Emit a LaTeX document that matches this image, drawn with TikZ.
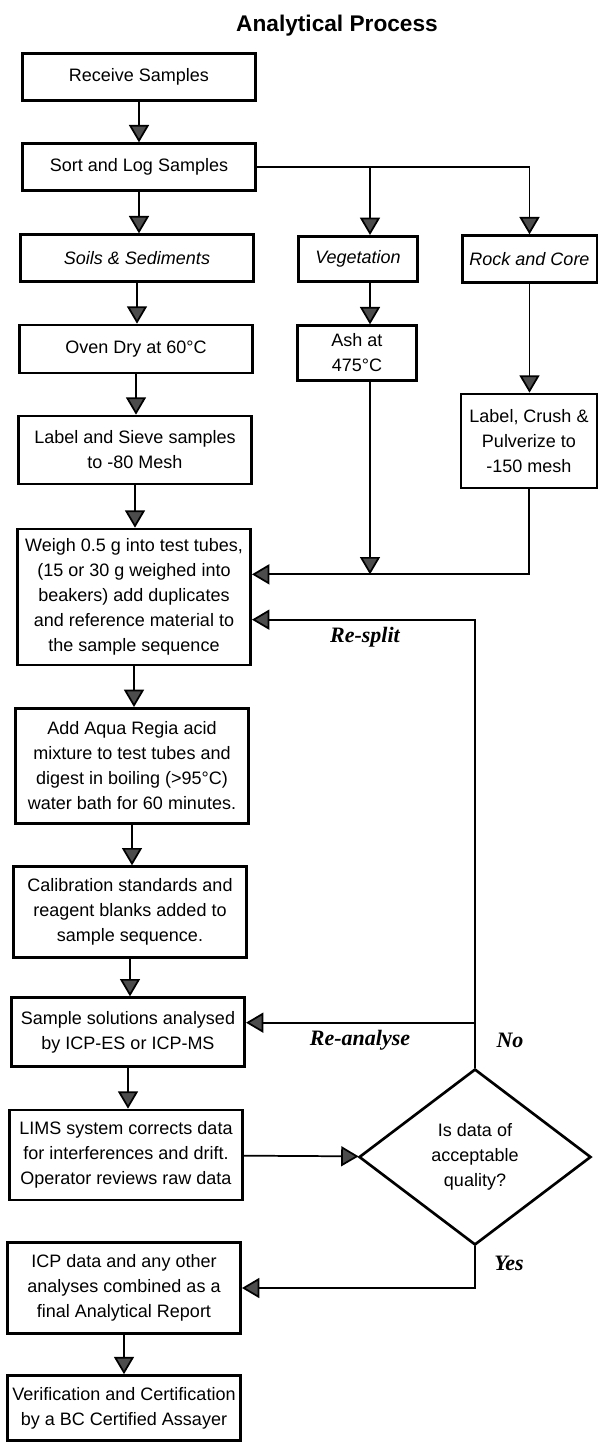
\documentclass[tikz,border=0pt]{standalone}
\usepackage{fontspec}
\setmainfont{Liberation Sans}
\newfontfamily\notefont{Liberation Serif}
\usetikzlibrary{arrows.meta,shapes.geometric}

\tikzset{every picture/.style={line width=0.75pt}}
\tikzset{
  box/.style={draw, line width=2, fill=white, align=center, inner sep=3pt, font=\fontsize{13.5}{18.75}\selectfont},
  wide/.style={box, minimum width=175pt},
  slim/.style={box, minimum width=89pt},
  query/.style={draw, diamond, line width=2, align=center, inner sep=0pt, minimum width=174pt, minimum height=132pt, font=\fontsize{13.5}{18.75}\selectfont},
  link/.style={->, line width=1.3},
  note/.style={font=\notefont\fontsize{16.5}{18}\selectfont\bfseries\itshape},
}

\begin{document}
\begin{tikzpicture}[x=0.75pt,y=0.75pt,yscale=-1,>={Triangle[length=13pt,width=15pt,fill=black!70]}]
\useasboundingbox (0,0) rectangle (598,1444);

% Text Node
\node[font=\fontsize{17}{20}\selectfont\bfseries] (title) at (337,26) {Analytical Process};

%Shape: Rectangle
\node[wide, minimum height=35pt] (receive) at (139,77) {Receive Samples};
\node[wide, minimum height=35pt] (sort) at (139,167) {Sort and Log Samples};
\node[wide, minimum height=35pt] (soils) at (137,258) {\textit{Soils \& Sediments}};
\node[slim, minimum height=34pt] (veg) at (358,259) {\textit{Vegetation}};
\node[box, minimum width=101pt, minimum height=35pt] (rock) at (529.5,259) {\textit{Rock and Core}};
\node[wide, minimum height=36pt] (oven) at (136,349) {Oven Dry at 60°C};
\node[slim, minimum height=41pt] (ash) at (357,353) {Ash at\\475°C};
\node[box, minimum width=102pt, minimum height=70.5pt] (crush) at (529,441) {Label, Crush \&\\Pulverize to\\-150 mesh};
\node[wide, minimum height=51pt] (sieve) at (135,450) {Label and Sieve samples\\to -80 Mesh};
\node[wide, minimum height=102pt] (weigh) at (134,597) {Weigh 0.5 g into test tubes,\\(15 or 30 g weighed into\\beakers) add duplicates\\and reference material to\\the sample sequence};
\node[wide, minimum height=86.5pt] (aqua) at (132,766) {Add Aqua Regia acid\\mixture to test tubes and\\digest in boiling (>95°C)\\water bath for 60 minutes.};
\node[wide, minimum height=68pt] (calib) at (130,912) {Calibration standards and\\reagent blanks added to\\sample sequence.};
\node[wide, minimum height=51.5pt] (sample) at (128,1032) {Sample solutions analysed\\by ICP-ES or ICP-MS};
\node[wide, minimum height=67.5pt] (lims) at (126,1155) {LIMS system corrects data\\for interferences and drift.\\Operator reviews raw data};
\node[wide, minimum height=68.5pt] (icp) at (124,1288) {ICP data and any other\\analyses combined as a\\final Analytical Report};
\node[wide, minimum height=48.75pt] (verify) at (124,1408) {Verification and Certification\\by a BC Certified Assayer};

%Shape: Diamond
\node[query] (check) at (475,1157) {Is data of\\acceptable\\quality?};

% Text Node
\node[note] (resplit) at (365,637) {Re-split};
\node[note] (reanalyse) at (360,1040) {Re-analyse};
\node[note] (no) at (510,1040) {No};
\node[note] (yes) at (509,1263) {Yes};

%Straight Lines
\coordinate (vegline) at (370,167);
\coordinate (joinin) at ([yshift=-17pt]weigh.east);
\coordinate (splitin) at ([yshift=17pt]weigh.east);
\coordinate (redoin) at ([yshift=-7pt]sample.east);

\draw[link] (receive) -- (receive |- sort.north);
\draw[link] (sort) -- (sort |- soils.north);
\draw[link] (sort.east) -| (rock.north);
\draw[link] (sort.east -| vegline) -- (vegline |- veg.north);
\draw[link] (vegline |- veg.south) -- (vegline |- ash.north);
\draw[link] (soils) -- (soils |- oven.north);
\draw[link] (oven) -- (oven |- sieve.north);
\draw[link] (sieve) -- (sieve |- weigh.north);
\draw[link] (rock) -- (rock |- crush.north);
\draw[link] (crush.south) |- (joinin);
\draw[link] (vegline |- ash.south) -- (vegline |- joinin);
\draw[link] (weigh) -- (weigh |- aqua.north);
\draw[link] (aqua) -- (aqua |- calib.north);
\draw[link] (calib) -- (calib |- sample.north);
\draw[link] (sample) -- (sample |- lims.north);
\draw[link] (lims) -- (check);
\draw[link] (check.north) |- (splitin);
\draw[link] (check.north |- redoin) -- (redoin);
\draw[link] (check.south) |- (icp.east);
\draw[link] (icp) -- (icp |- verify.north);

\end{tikzpicture}
\end{document}
